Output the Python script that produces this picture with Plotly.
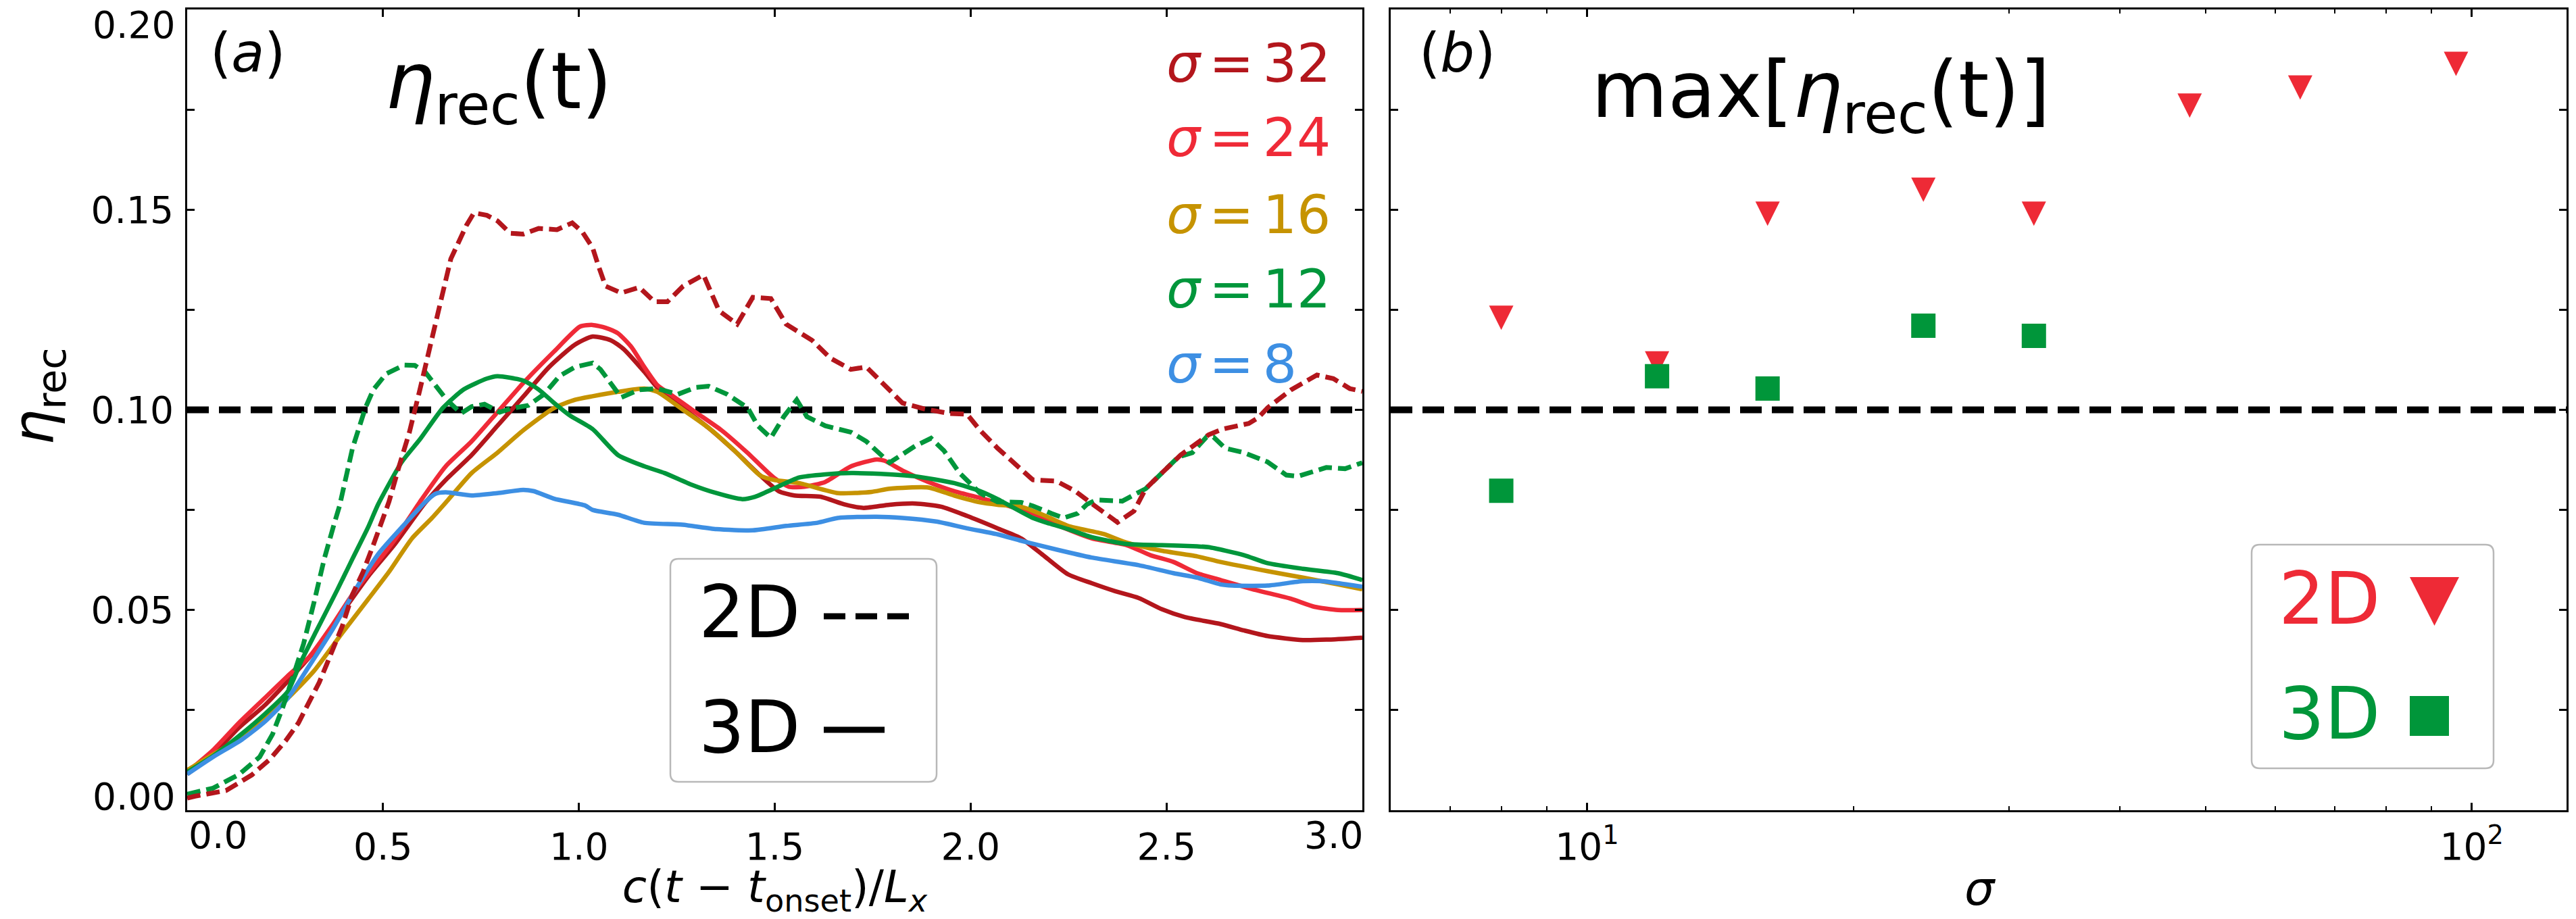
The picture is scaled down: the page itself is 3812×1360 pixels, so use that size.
import numpy as np
import plotly.graph_objects as go

# ---------------- data ----------------
x_s8_3d = [0.0, 0.066, 0.139, 0.198, 0.257, 0.310, 0.369, 0.429, 0.488, 0.554, 0.607, 0.633, 0.660, 0.726, 0.792, 0.858, 0.884, 0.937, 1.016, 1.035, 1.10, 1.166, 1.265, 1.351, 1.444, 1.529, 1.609, 1.661, 1.760, 1.826, 1.912, 1.991, 2.069, 2.129, 2.219, 2.309, 2.429, 2.518, 2.578, 2.638, 2.668, 2.758, 2.848, 2.896, 2.938, 3.0]
y_s8_3d = [0.0090, 0.0133, 0.0176, 0.0221, 0.0280, 0.0358, 0.0448, 0.0550, 0.0640, 0.0713, 0.0769, 0.0790, 0.0794, 0.0786, 0.0792, 0.0800, 0.0797, 0.0778, 0.0761, 0.0750, 0.0738, 0.0718, 0.0713, 0.0702, 0.0699, 0.0710, 0.0718, 0.0730, 0.0733, 0.0730, 0.0721, 0.0704, 0.0689, 0.0673, 0.0651, 0.0631, 0.0612, 0.0592, 0.0581, 0.0564, 0.0561, 0.0561, 0.0572, 0.0572, 0.0567, 0.0558]

x_s16_3d = [0.0, 0.066, 0.132, 0.198, 0.257, 0.323, 0.396, 0.462, 0.515, 0.574, 0.625, 0.666, 0.726, 0.792, 0.858, 0.937, 0.990, 1.035, 1.100, 1.167, 1.200, 1.266, 1.331, 1.397, 1.463, 1.497, 1.562, 1.661, 1.747, 1.793, 1.892, 1.958, 2.024, 2.069, 2.129, 2.189, 2.249, 2.339, 2.399, 2.488, 2.578, 2.638, 2.758, 2.848, 2.938, 3.0]
y_s16_3d = [0.0100, 0.0139, 0.0178, 0.0229, 0.0280, 0.0347, 0.0443, 0.0527, 0.0595, 0.0679, 0.0730, 0.0775, 0.0842, 0.0893, 0.0949, 0.1005, 0.1025, 0.1034, 0.1045, 0.1053, 0.1045, 0.1000, 0.0955, 0.0898, 0.0836, 0.0825, 0.0817, 0.0792, 0.0795, 0.0803, 0.0806, 0.0786, 0.0769, 0.0763, 0.0758, 0.0736, 0.0710, 0.0690, 0.0668, 0.0648, 0.0634, 0.0620, 0.0597, 0.0581, 0.0564, 0.0552]

x_s12_3d = [0.0, 0.066, 0.132, 0.198, 0.257, 0.290, 0.330, 0.383, 0.422, 0.462, 0.488, 0.548, 0.594, 0.653, 0.706, 0.765, 0.792, 0.858, 0.897, 0.937, 0.977, 1.035, 1.100, 1.167, 1.219, 1.285, 1.351, 1.417, 1.450, 1.497, 1.562, 1.629, 1.695, 1.793, 1.859, 1.958, 2.024, 2.069, 2.159, 2.201, 2.249, 2.309, 2.399, 2.488, 2.578, 2.608, 2.698, 2.758, 2.848, 2.938, 3.0]
y_s12_3d = [0.0095, 0.0135, 0.0185, 0.0240, 0.0297, 0.0370, 0.0448, 0.0550, 0.0628, 0.0707, 0.0765, 0.0870, 0.0926, 0.1005, 0.1051, 0.1078, 0.1084, 0.1073, 0.1051, 0.1017, 0.0986, 0.0952, 0.0887, 0.0859, 0.0842, 0.0814, 0.0792, 0.0777, 0.0783, 0.0803, 0.0831, 0.0839, 0.0842, 0.0839, 0.0834, 0.0817, 0.0797, 0.0777, 0.0730, 0.0716, 0.0702, 0.0682, 0.0665, 0.0662, 0.0659, 0.0657, 0.0637, 0.0617, 0.0603, 0.0592, 0.0575]

x_s24_3d = [0.0, 0.066, 0.132, 0.198, 0.264, 0.310, 0.369, 0.422, 0.475, 0.528, 0.594, 0.660, 0.726, 0.792, 0.858, 0.937, 1.003, 1.035, 1.068, 1.100, 1.134, 1.167, 1.200, 1.233, 1.298, 1.364, 1.430, 1.497, 1.536, 1.576, 1.629, 1.695, 1.760, 1.780, 1.827, 1.892, 1.958, 2.024, 2.069, 2.159, 2.219, 2.309, 2.399, 2.459, 2.518, 2.578, 2.638, 2.728, 2.818, 2.878, 2.938, 3.0]
y_s24_3d = [0.0095, 0.0150, 0.0218, 0.0280, 0.0342, 0.0381, 0.0460, 0.0539, 0.0606, 0.0673, 0.0770, 0.0859, 0.0921, 0.0994, 0.1067, 0.1146, 0.1208, 0.1212, 0.1205, 0.1191, 0.1157, 0.1107, 0.1062, 0.1039, 0.0994, 0.0949, 0.0893, 0.0831, 0.0808, 0.0808, 0.0820, 0.0859, 0.0876, 0.0873, 0.0848, 0.0820, 0.0797, 0.0780, 0.0768, 0.0741, 0.0713, 0.0679, 0.0662, 0.0637, 0.0620, 0.0592, 0.0575, 0.0550, 0.0528, 0.0508, 0.0500, 0.0500]

x_s32_3d = [0.0, 0.066, 0.132, 0.198, 0.264, 0.330, 0.396, 0.462, 0.528, 0.607, 0.660, 0.726, 0.792, 0.858, 0.924, 0.990, 1.035, 1.081, 1.114, 1.167, 1.200, 1.265, 1.331, 1.397, 1.463, 1.510, 1.550, 1.616, 1.681, 1.727, 1.793, 1.859, 1.925, 1.991, 2.069, 2.129, 2.189, 2.249, 2.309, 2.369, 2.429, 2.488, 2.548, 2.638, 2.698, 2.758, 2.848, 2.908, 3.0]
y_s32_3d = [0.0090, 0.0140, 0.0206, 0.0262, 0.0330, 0.0403, 0.0494, 0.0584, 0.0662, 0.0767, 0.0825, 0.0887, 0.0960, 0.1033, 0.1107, 0.1163, 0.1183, 0.1174, 0.1152, 0.1095, 0.1056, 0.1005, 0.0955, 0.0898, 0.0836, 0.0797, 0.0786, 0.0783, 0.0763, 0.0755, 0.0763, 0.0766, 0.0758, 0.0735, 0.0704, 0.0679, 0.0634, 0.0589, 0.0567, 0.0547, 0.0530, 0.0502, 0.0482, 0.0465, 0.0449, 0.0435, 0.0425, 0.0426, 0.0431]

x_s12_2d = [0.0, 0.066, 0.132, 0.185, 0.218, 0.244, 0.271, 0.297, 0.323, 0.350, 0.376, 0.389, 0.422, 0.455, 0.475, 0.508, 0.554, 0.581, 0.607, 0.633, 0.660, 0.699, 0.726, 0.759, 0.798, 0.825, 0.871, 0.911, 0.950, 0.990, 1.035, 1.055, 1.088, 1.108, 1.154, 1.200, 1.253, 1.299, 1.331, 1.378, 1.431, 1.457, 1.490, 1.523, 1.556, 1.582, 1.629, 1.695, 1.734, 1.793, 1.859, 1.899, 1.932, 1.972, 2.024, 2.069, 2.129, 2.159, 2.207, 2.237, 2.273, 2.297, 2.321, 2.387, 2.447, 2.489, 2.530, 2.566, 2.602, 2.620, 2.650, 2.698, 2.758, 2.806, 2.836, 2.908, 2.956, 3.0]
y_s12_2d = [0.0040, 0.0055, 0.0089, 0.0133, 0.0190, 0.0257, 0.0336, 0.0415, 0.0516, 0.0628, 0.0718, 0.0760, 0.0904, 0.1005, 0.1050, 0.1090, 0.1112, 0.1111, 0.1095, 0.1062, 0.1028, 0.0991, 0.1008, 0.1014, 0.0994, 0.1003, 0.1011, 0.1039, 0.1084, 0.1107, 0.1117, 0.1101, 0.1056, 0.1031, 0.1050, 0.1053, 0.1039, 0.1056, 0.1059, 0.1039, 0.1005, 0.0960, 0.0930, 0.0983, 0.1025, 0.0983, 0.0960, 0.0944, 0.0921, 0.0868, 0.0910, 0.0929, 0.0898, 0.0842, 0.0792, 0.0770, 0.0769, 0.0760, 0.0741, 0.0730, 0.0741, 0.0764, 0.0775, 0.0772, 0.0803, 0.0843, 0.0882, 0.0893, 0.0932, 0.0932, 0.0904, 0.0893, 0.0870, 0.0837, 0.0834, 0.0856, 0.0853, 0.0868]

x_s32_2d = [0.0, 0.020, 0.099, 0.165, 0.211, 0.251, 0.284, 0.310, 0.337, 0.356, 0.376, 0.396, 0.422, 0.449, 0.475, 0.495, 0.515, 0.541, 0.567, 0.594, 0.620, 0.647, 0.673, 0.693, 0.713, 0.732, 0.765, 0.792, 0.825, 0.858, 0.897, 0.944, 0.983, 1.009, 1.035, 1.048, 1.068, 1.108, 1.154, 1.193, 1.226, 1.266, 1.318, 1.358, 1.404, 1.444, 1.490, 1.529, 1.595, 1.642, 1.694, 1.734, 1.793, 1.826, 1.879, 1.945, 1.991, 2.024, 2.069, 2.129, 2.159, 2.219, 2.267, 2.309, 2.375, 2.417, 2.447, 2.489, 2.536, 2.608, 2.644, 2.710, 2.734, 2.758, 2.818, 2.884, 2.926, 2.968, 3.0]
y_s32_2d = [0.0030, 0.0035, 0.0049, 0.0088, 0.0127, 0.0173, 0.0218, 0.0268, 0.0319, 0.0364, 0.0415, 0.0460, 0.0539, 0.0595, 0.0662, 0.0718, 0.0770, 0.0859, 0.0943, 0.1050, 0.1152, 0.1270, 0.1377, 0.1422, 0.1461, 0.1492, 0.1486, 0.1472, 0.1441, 0.1439, 0.1453, 0.1450, 0.1467, 0.1444, 0.1405, 0.1365, 0.1309, 0.1292, 0.1306, 0.1270, 0.1270, 0.1309, 0.1337, 0.1247, 0.1214, 0.1281, 0.1278, 0.1214, 0.1174, 0.1129, 0.1101, 0.1107, 0.1051, 0.1017, 0.1003, 0.0991, 0.0989, 0.0949, 0.0904, 0.0853, 0.0825, 0.0822, 0.0797, 0.0766, 0.0719, 0.0747, 0.0803, 0.0843, 0.0887, 0.0938, 0.0952, 0.0966, 0.0980, 0.1005, 0.1050, 0.1087, 0.1078, 0.1053, 0.1046]

sigma_2d = [8, 12, 16, 24, 32, 48, 64, 96]
max_eta_2d = [0.1230, 0.1116, 0.1490, 0.1550, 0.1490, 0.1760, 0.1805, 0.1864]
sigma_3d = [8, 12, 16, 24, 32]
max_eta_3d = [0.0798, 0.1084, 0.1053, 0.1210, 0.1185]

eta_threshold = 0.10
sigma_labels = ["32", "24", "16", "12", "8"]
x_ticks_a = [0.0, 0.5, 1.0, 1.5, 2.0, 2.5, 3.0]
x_ticktext_a = ["", "0.5", "1.0", "1.5", "2.0", "2.5", ""]
y_ticks = [0.0, 0.025, 0.05, 0.075, 0.10, 0.125, 0.15, 0.175, 0.20]
y_ticktext = ["", "", "0.05", "", "0.10", "", "0.15", "", ""]
x_ticks_b = [10, 100]
x_ticktext_b = ["10<sup>1</sup>", "10<sup>2</sup>"]
x_minor_b = [6, 7, 8, 9, 20, 30, 40, 50, 60, 70, 80, 90]
xrange_a = [0.0, 3.0]
xrange_b = [6.0, 128.0]
yrange = [0.0, 0.2]

# ---------------- style ----------------
C32 = "#b3161c"
C24 = "#ef2a37"
C16 = "#c69300"
C12 = "#00963b"
C8 = "#3d8fe3"
FONT = "DejaVu Sans"

W, H = 3812, 1360
L, R, T, B = 277, 14, 14, 161
PW = W - L - R
PH = H - T - B
BOT = H - B


def px(x):
    return (x - L) / PW


def py(y):
    return (BOT - y) / PH


fig = go.Figure()

solid = [(x_s32_3d, y_s32_3d, C32), (x_s24_3d, y_s24_3d, C24), (x_s16_3d, y_s16_3d, C16),
         (x_s12_3d, y_s12_3d, C12), (x_s8_3d, y_s8_3d, C8)]
for xs, ys, c in solid:
    fig.add_trace(go.Scatter(x=xs, y=ys, mode="lines", line=dict(color=c, width=6.5, shape="spline", smoothing=0.6),
                             xaxis="x", yaxis="y", showlegend=False))
for xs, ys, c in [(x_s12_2d, y_s12_2d, C12), (x_s32_2d, y_s32_2d, C32)]:
    fig.add_trace(go.Scatter(x=xs, y=ys, mode="lines", line=dict(color=c, width=7, dash="20px,9px"),
                             xaxis="x", yaxis="y", showlegend=False))

fig.add_trace(go.Scatter(x=sigma_2d, y=max_eta_2d, mode="markers",
                         marker=dict(symbol="arrow-down", size=36, standoff=18, color="#ee2a36", line=dict(width=0)),
                         xaxis="x2", yaxis="y2", showlegend=False))
fig.add_trace(go.Scatter(x=sigma_3d, y=max_eta_3d, mode="markers",
                         marker=dict(symbol="square", size=36, color="#00963a", line=dict(width=0)),
                         xaxis="x2", yaxis="y2", showlegend=False))

dom_a = [0, px(2016)]
dom_b = [px(2058), 1]

axis_common = dict(showline=True, linecolor="black", linewidth=3, mirror="ticks", ticks="inside",
                   tickcolor="black", tickwidth=2.5, ticklen=11, showgrid=False, zeroline=False,
                   tickfont=dict(family=FONT, size=55, color="black"))

xlabel_a = "<i>c</i>(<i>t</i> − <i>t</i><sub>onset</sub>)/<i>L</i><sub><i>x</i></sub>"

fig.update_layout(
    width=W, height=H,
    margin=dict(l=L, r=R, t=T, b=B, pad=0, autoexpand=False),
    paper_bgcolor="white", plot_bgcolor="white",
    font=dict(family=FONT, color="black"),
    xaxis=dict(domain=dom_a, range=xrange_a, tickmode="array", tickvals=x_ticks_a, ticktext=x_ticktext_a,
               anchor="y", ticklabelstandoff=4, automargin=False,
               title=dict(text=xlabel_a, standoff=10, font=dict(family=FONT, size=66, color="black")),
               **axis_common),
    yaxis=dict(domain=[0, 1], range=yrange, tickmode="array", tickvals=y_ticks, ticktext=y_ticktext,
               anchor="x", ticklabelstandoff=6, automargin=False, **axis_common),
    xaxis2=dict(domain=dom_b, type="log", range=[np.log10(xrange_b[0]), np.log10(xrange_b[1])],
                tickmode="array", tickvals=x_ticks_b, ticktext=x_ticktext_b, anchor="y2", ticklabelstandoff=4,
                automargin=False,
                minor=dict(tickvals=x_minor_b, ticks="inside", ticklen=6, tickwidth=2, tickcolor="black"),
                **axis_common),
    yaxis2=dict(domain=[0, 1], range=yrange, tickmode="array", tickvals=y_ticks, automargin=False,
                ticktext=[""] * len(y_ticks), anchor="x2", **axis_common),
)

# threshold lines
for xr, yr in [("x domain", "y"), ("x2 domain", "y2")]:
    fig.add_shape(type="line", xref=xr, yref=yr, x0=0, x1=1, y0=eta_threshold, y1=eta_threshold,
                  line=dict(color="black", width=10, dash="32px,15px"), layer="below")


def rrect(x0, y0, x1, y1, r):
    def P(a, b):
        return f"{px(a):.6f},{py(b):.6f}"
    return ("M" + P(x0 + r, y0) + " L" + P(x1 - r, y0) + " Q" + P(x1, y0) + " " + P(x1, y0 + r) +
            " L" + P(x1, y1 - r) + " Q" + P(x1, y1) + " " + P(x1 - r, y1) +
            " L" + P(x0 + r, y1) + " Q" + P(x0, y1) + " " + P(x0, y1 - r) +
            " L" + P(x0, y0 + r) + " Q" + P(x0, y0) + " " + P(x0 + r, y0) + " Z")


# legend boxes
fig.add_shape(type="path", xref="paper", yref="paper", path=rrect(992, 827, 1386, 1157, 12),
              line=dict(color="#b8b8b8", width=2.5), fillcolor="white")
fig.add_shape(type="path", xref="paper", yref="paper", path=rrect(3332, 806, 3690, 1137, 12),
              line=dict(color="#b8b8b8", width=2.5), fillcolor="white")
# left legend line samples
fig.add_shape(type="line", xref="paper", yref="paper", x0=px(1219), x1=px(1348), y0=py(912), y1=py(912),
              line=dict(color="black", width=9, dash="32px,15px"))
fig.add_shape(type="line", xref="paper", yref="paper", x0=px(1219), x1=px(1309), y0=py(1080), y1=py(1080),
              line=dict(color="black", width=9))
# right legend symbols
tri = f"M{px(3566):.6f},{py(854):.6f} L{px(3639):.6f},{py(854):.6f} L{px(3602.5):.6f},{py(926):.6f} Z"
fig.add_shape(type="path", xref="paper", yref="paper", path=tri, line=dict(width=0), fillcolor="#ee2a36")
fig.add_shape(type="rect", xref="paper", yref="paper", x0=px(3566), x1=px(3624), y0=py(1089), y1=py(1030),
              line=dict(width=0), fillcolor="#00963a")


def ann(text, x, y, size, color="black", xanchor="center", yanchor="middle", angle=0):
    fig.add_annotation(text=text, x=px(x), y=py(y), xref="paper", yref="paper", showarrow=False,
                       xanchor=xanchor, yanchor=yanchor, textangle=angle,
                       font=dict(family=FONT, size=size, color=color))


# edge tick labels (shifted inward as in the reference)
ann("0.00", 261, 1179, 55, xanchor="right")
ann("0.20", 261, 37, 55, xanchor="right")
ann("0.0", 322, 1236, 55)
ann("3.0", 1973, 1236, 55)

# titles / panel labels
ann("(<i>a</i>)", 309, 78, 80, xanchor="left")
ann("(<i>b</i>)", 2098, 78, 80, xanchor="left")
ann("<i>η</i><sub>rec</sub>(t)", 738, 128, 116)
ann("max[<i>η</i><sub>rec</sub>(t)]", 2694, 141, 116)

# sigma labels
SP = "\u2006"
for lab, c, yc in zip(sigma_labels, [C32, C24, C16, C12, C8], [94, 204, 318, 428, 539]):
    ann(f"<i>σ</i>{SP}={SP}{lab}", 1724, yc, 79, color=c, xanchor="left")

# legend texts
ann("2D", 1032, 906, 107, xanchor="left")
ann("3D", 1032, 1076, 107, xanchor="left")
ann("2D", 3370, 886, 107, color="#ee2a36", xanchor="left")
ann("3D", 3370, 1056, 107, color="#00963a", xanchor="left")

# axis titles
ann("<i>σ</i>", 2930, 1315, 70)
ann("<i>η</i><sub>rec</sub>", 56, 587, 84, angle=-90)

fig.write_html("out.html")
